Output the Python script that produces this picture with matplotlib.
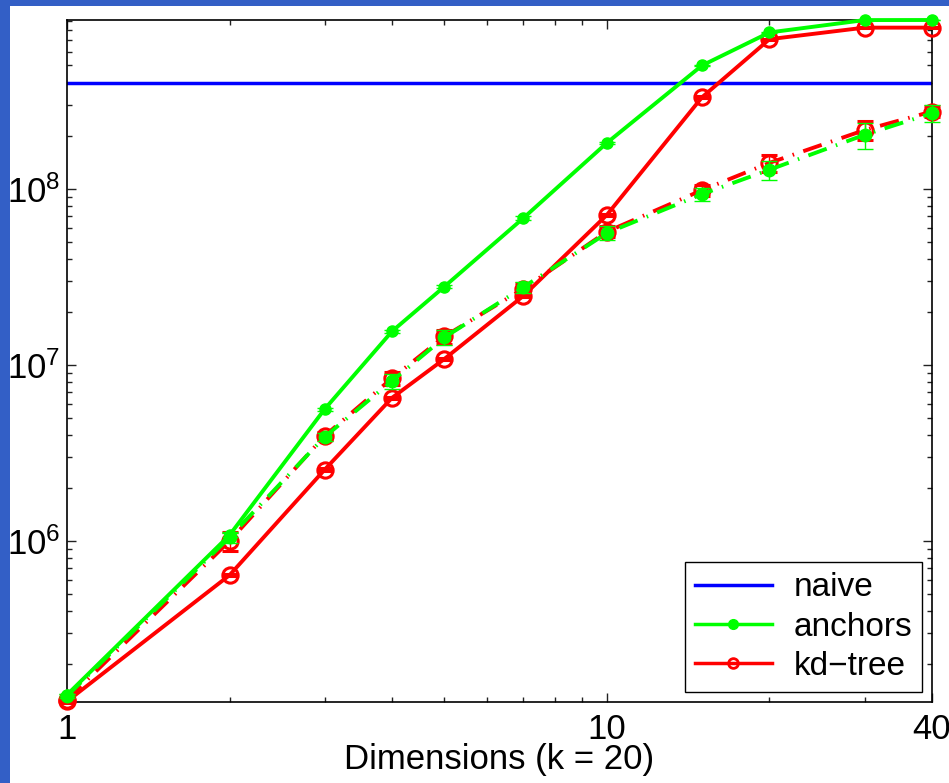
import matplotlib
matplotlib.use("Agg")
import matplotlib.pyplot as plt
from matplotlib.lines import Line2D
from matplotlib.patches import Rectangle
from matplotlib.ticker import FixedLocator, FixedFormatter, NullFormatter, LogLocator

plt.rcParams['font.family'] = ['Liberation Sans', 'DejaVu Sans']
plt.rcParams['mathtext.fontset'] = 'custom'
plt.rcParams['mathtext.rm'] = 'Liberation Sans'
plt.rcParams['mathtext.it'] = 'Liberation Sans:italic'

# ---- data ----
dims = [1, 2, 3, 4, 5, 7, 10, 15, 20, 30, 40]
naive = 4.0e8
anchors = [1.34e5, 1.08e6, 5.6e6, 1.55e7, 2.78e7, 6.8e7, 1.82e8, 5.0e8, 7.7e8, 9.05e8, 9.06e8]
anchors_err = [2e3, 3e4, 1e5, 3e5, 5e5, 1.5e6, 3e6, 5e6, 5e6, 5e6, 5e6]
kdtree = [1.23e5, 6.4e5, 2.54e6, 6.5e6, 1.08e7, 2.46e7, 7.1e7, 3.3e8, 7.05e8, 8.2e8, 8.2e8]
kdtree_err = [2e3, 1e4, 4e4, 1e5, 2e5, 4e5, 1e6, 4e6, 5e6, 5e6, 5e6]
anchors_b = [1.32e5, 1.05e6, 3.9e6, 8.1e6, 1.43e7, 2.76e7, 5.6e7, 9.3e7, 1.28e8, 2.02e8, 2.68e8]
anchors_b_err = [3e3, 8e4, 2e5, 8e5, 1.4e6, 2e6, 5e6, 8e6, 1.6e7, 3.5e7, 3e7]
kdtree_b = [1.26e5, 1.0e6, 3.95e6, 8.4e6, 1.45e7, 2.7e7, 5.7e7, 9.8e7, 1.4e8, 2.15e8, 2.74e8]
kdtree_b_err = [3e3, 1.2e5, 2e5, 7e5, 1.3e6, 2e6, 4e6, 7e6, 1.6e7, 2.7e7, 2e7]
xtick_vals = [1, 10, 40]
xtick_labels = ['1', '10', '40']
xlabel = 'Dimensions (k = 20)'
legend_labels = ['naive', 'anchors', 'kd\u2212tree']

GREEN = '#00ff00'
RED = '#ff0000'
BLUE = '#0000ff'

fig = plt.figure(figsize=(9.49, 7.83), dpi=100, facecolor='white')
W, H = 949, 783
fig.patches.append(Rectangle((0, 0), 10 / W, 1, transform=fig.transFigure,
                             facecolor='#335FC6', edgecolor='none', zorder=0))
fig.patches.append(Rectangle((0, 1 - 6 / H), 1, 6 / H, transform=fig.transFigure,
                             facecolor='#335FC6', edgecolor='none', zorder=0))

ax = fig.add_axes([67 / W, 1 - 702 / H, (932 - 67) / W, (702 - 20) / H])
ax.set_xscale('log')
ax.set_yscale('log')

ax.axhline(naive, color=BLUE, lw=2.5, zorder=2)

ls_dd = (0, (5, 2.5, 0.4, 2.5))
ax.errorbar(dims, kdtree, yerr=kdtree_err, color=RED, lw=2.8, marker='o', ms=11,
            mfc='none', mew=2.2, elinewidth=1, capsize=6, zorder=3, clip_on=False)
ax.errorbar(dims, kdtree_b, yerr=kdtree_b_err, color=RED, lw=2.8, ls=ls_dd, marker='o', ms=11,
            mfc='none', mew=2.2, elinewidth=1, capsize=6, zorder=3, clip_on=False)
ax.errorbar(dims, anchors, yerr=anchors_err, color=GREEN, lw=2.8, marker='o', ms=8,
            mec=GREEN, elinewidth=1, capsize=6, zorder=4, clip_on=False)
ax.errorbar(dims, anchors_b, yerr=anchors_b_err, color=GREEN, lw=2.8, ls=ls_dd, marker='o', ms=9,
            mec=GREEN, elinewidth=1, capsize=6, zorder=4, clip_on=False)

ax.set_xlim(1, 40)
ax.set_ylim(1.22e5, 9.06e8)

ax.xaxis.set_major_locator(FixedLocator(xtick_vals))
ax.xaxis.set_major_formatter(FixedFormatter(xtick_labels))
ax.xaxis.set_minor_locator(FixedLocator([2, 3, 4, 5, 6, 7, 8, 9, 20, 30]))
ax.xaxis.set_minor_formatter(NullFormatter())
ax.yaxis.set_major_locator(LogLocator(base=10, numticks=10))
ax.yaxis.set_minor_locator(LogLocator(base=10, subs=range(2, 10), numticks=10))
ax.yaxis.set_minor_formatter(NullFormatter())

ax.tick_params(which='both', direction='in', top=True, right=True, labelsize=25, color='#222222')
ax.tick_params(which='major', length=6.3, width=1)
ax.tick_params(which='minor', length=3.6, width=1)
ax.tick_params(axis='x', pad=8)
ax.tick_params(axis='y', pad=5)
for s in ax.spines.values():
    s.set_linewidth(1.2)
    s.set_color('black')

ax.set_xlabel(xlabel, fontsize=25, labelpad=-2)

handles = [
    Line2D([], [], color=BLUE, lw=2.5),
    Line2D([], [], color=GREEN, lw=2.5, marker='o', ms=7),
    Line2D([], [], color=RED, lw=2.5, marker='o', ms=7, mfc='none', mew=2),
]
leg = ax.legend(handles, legend_labels, loc='lower right', fontsize=24, frameon=True,
                fancybox=False, edgecolor='black', framealpha=1, handlelength=2.3,
                borderaxespad=0.3, labelspacing=0.25, borderpad=0.3, handletextpad=0.65)
leg.get_frame().set_linewidth(1)

fig.savefig('out.png', dpi=100, facecolor=fig.get_facecolor())
